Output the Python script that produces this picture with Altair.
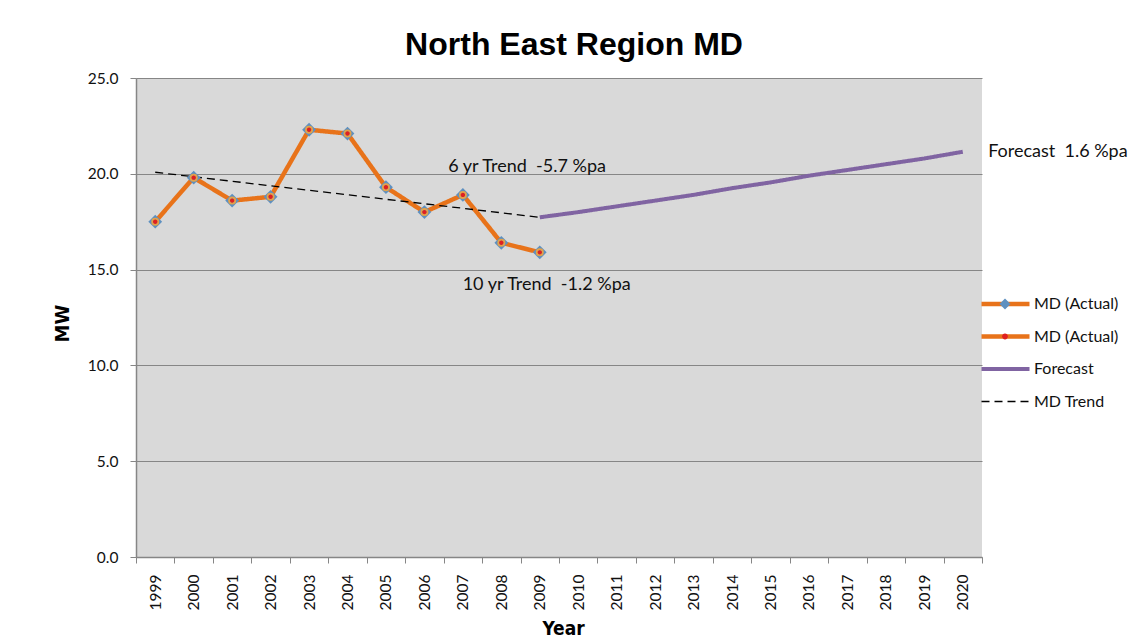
import altair as alt
import pandas as pd

# ---- data ----
years = list(range(1999, 2021))
tick_bounds = [1998.5 + i for i in range(23)]

actual_years = list(range(1999, 2010))
actual_md = [17.5, 19.8, 18.6, 18.8, 22.3, 22.1, 19.3, 18.0, 18.9, 16.4, 15.9]

forecast_years = list(range(2009, 2021))
forecast_md = [17.73, 18.0, 18.3, 18.6, 18.9, 19.25, 19.55, 19.9, 20.2, 20.5, 20.8, 21.15]

trend_years = [1999, 2009]
trend_md = [20.08, 17.73]

ACT1 = "MD (Actual)"
ACT2 = "MD (Actual) "
line_series = [ACT1, ACT2, "Forecast", "MD Trend"]
line_colors = ["#E8731A", "#E8731A", "#8064A2", "#000000"]
line_dashes = [[1, 0], [1, 0], [1, 0], [8, 5]]
line_widths = [4.5, 4.5, 4.0, 1.3]

marker_series = ["mk_d", "mk_r", "mk_f", "mk_t"]
marker_fills = ["#5E90C0", "#E02020", "transparent", "transparent"]
diamond_path = "M0,-0.23L0.23,0L0,0.23L-0.23,0Z"
dot_path = "M-0.12,0A0.12,0.12,0,1,0,0.12,0A0.12,0.12,0,1,0,-0.12,0Z"
marker_shapes = [diamond_path, dot_path, "circle", "circle"]

ann_center_text = ["6 yr Trend\u00a0 -5.7 %pa", "10 yr Trend\u00a0 -1.2 %pa"]
ann_center_x = [2008.67, 2009.18]
ann_center_y = [20.11, 13.94]
ann_left_text = ["Forecast\u00a0 1.6 %pa"]
ann_left_x = [2020.66]
ann_left_y = [20.89]

# ---- tables ----
lines_df = pd.concat([
    pd.DataFrame({"year": actual_years, "value": actual_md, "series": ACT1}),
    pd.DataFrame({"year": forecast_years, "value": forecast_md, "series": "Forecast"}),
    pd.DataFrame({"year": trend_years, "value": trend_md, "series": "MD Trend"}),
], ignore_index=True)
diam_df = pd.DataFrame({"year": actual_years, "value": actual_md, "mk": "mk_d"})
dot_df = pd.DataFrame({"year": actual_years, "value": actual_md, "mk": "mk_r"})
ann_c_df = pd.DataFrame({"year": ann_center_x, "value": ann_center_y, "label": ann_center_text})
ann_l_df = pd.DataFrame({"year": ann_left_x, "value": ann_left_y, "label": ann_left_text})

LBL_FONT = "Lato"
BOLD_FONT = "DejaVu Sans Condensed, Liberation Sans, sans-serif"
GRAY = "#868686"

x_scale = alt.Scale(domain=[1998.5, 2020.5], nice=False, zero=False)
y_scale = alt.Scale(domain=[0, 25], nice=False)

x_label_axis = alt.Axis(
    values=years, format="d", labelAngle=-90, ticks=False, tickSize=0, grid=False,
    domainColor=GRAY, domainWidth=1.5, labelPadding=17, labelFont=LBL_FONT,
    labelFontSize=15.5, labelColor="#111", orient="bottom",
    title="Year", titleFont=BOLD_FONT, titleFontSize=19,
    titleFontWeight="bold", titleColor="#000", titleX=427, titleY=71,
    titleBaseline="middle", titleAlign="center",
)
x_tick_axis = alt.Axis(
    values=tick_bounds, labels=False, ticks=True, tickSize=6, tickColor=GRAY,
    domain=False, grid=False, title=None, orient="bottom",
)
y_axis = alt.Axis(
    values=[0, 5, 10, 15, 20, 25], format=".1f", grid=True, gridColor=GRAY,
    gridWidth=1, domainColor=GRAY, domainWidth=1.5, tickColor=GRAY, tickSize=6,
    labelPadding=12, labelFont=LBL_FONT, labelFontSize=15.5, labelColor="#111",
    title="MW", titleFont=BOLD_FONT, titleFontSize=20, orient="left",
    titleFontWeight="bold", titleColor="#000", titleX=-74, titleY=245,
    titleAngle=-90, titleBaseline="middle", titleAlign="center",
)

LEG_X = 843
LEG_Y = 216
legend_common = dict(
    orient="none", legendX=LEG_X, legendY=LEG_Y, title=None, padding=0,
    symbolSize=2304, clipHeight=20, rowPadding=12.5, labelFont=LBL_FONT,
    labelFontSize=16, labelColor="#111", labelOffset=2,
)

line_leg = alt.Legend(symbolType="stroke", **legend_common)
lines = alt.Chart(lines_df).mark_line().encode(
    x=alt.X("year:Q", scale=x_scale, axis=x_label_axis),
    y=alt.Y("value:Q", scale=y_scale, axis=y_axis),
    color=alt.Color("series:N", scale=alt.Scale(domain=line_series, range=line_colors),
                    legend=line_leg),
    strokeDash=alt.StrokeDash("series:N", scale=alt.Scale(domain=line_series, range=line_dashes),
                              legend=line_leg),
    strokeWidth=alt.StrokeWidth("series:N", scale=alt.Scale(type="ordinal", domain=line_series,
                                                            range=line_widths),
                                legend=line_leg),
)

marker_legend = alt.Legend(symbolStrokeWidth=0, labelExpr="''",
                           **{**legend_common, "legendX": LEG_X + 2})

diamonds = alt.Chart(diam_df).mark_point(filled=True, size=3600, opacity=1).encode(
    x=alt.X("year:Q", scale=x_scale, axis=x_tick_axis),
    y=alt.Y("value:Q", scale=y_scale, axis=None),
    fill=alt.Fill("mk:N", scale=alt.Scale(domain=marker_series, range=marker_fills), legend=marker_legend),
    shape=alt.Shape("mk:N", scale=alt.Scale(domain=marker_series, range=marker_shapes), legend=marker_legend),
)
rings = alt.Chart(dot_df).mark_point(filled=False, size=36, stroke="#E3A24A", strokeWidth=2, opacity=1).encode(
    x=alt.X("year:Q", scale=x_scale, axis=None),
    y=alt.Y("value:Q", scale=y_scale, axis=None),
    shape=alt.value("circle"),
)
dots = alt.Chart(dot_df).mark_point(filled=True, size=1344, opacity=1).encode(
    x=alt.X("year:Q", scale=x_scale, axis=None),
    y=alt.Y("value:Q", scale=y_scale, axis=None),
    fill=alt.Fill("mk:N", scale=alt.Scale(domain=marker_series, range=marker_fills), legend=marker_legend),
    shape=alt.Shape("mk:N", scale=alt.Scale(domain=marker_series, range=marker_shapes), legend=marker_legend),
)

ann_c = alt.Chart(ann_c_df).mark_text(
    font=LBL_FONT, fontSize=18, color="#111", align="center", baseline="alphabetic"
).encode(
    x=alt.X("year:Q", scale=x_scale, axis=None),
    y=alt.Y("value:Q", scale=y_scale, axis=None),
    text="label:N",
)
ann_l = alt.Chart(ann_l_df).mark_text(
    font=LBL_FONT, fontSize=18, color="#111", align="left", baseline="alphabetic"
).encode(
    x=alt.X("year:Q", scale=x_scale, axis=None),
    y=alt.Y("value:Q", scale=y_scale, axis=None),
    text="label:N",
)

chart = alt.layer(lines, diamonds, rings, dots, ann_c, ann_l).resolve_axis(
    x="independent", y="independent"
).properties(
    width=846,
    height=479,
    autosize=alt.AutoSizeParams(type="none"),
    padding={"left": 136, "top": 78, "right": 152, "bottom": 83},
    background="white",
    title=alt.TitleParams(
        text="North East Region MD", font="Liberation Sans", fontSize=32,
        fontWeight="bold", color="#000", anchor="middle", dx=15, dy=41, offset=25,
        baseline="alphabetic",
    ),
).configure_view(
    fill="#D9D9D9", stroke=None,
)

chart.save("out.html", embed_options={"renderer": "svg", "actions": False})
